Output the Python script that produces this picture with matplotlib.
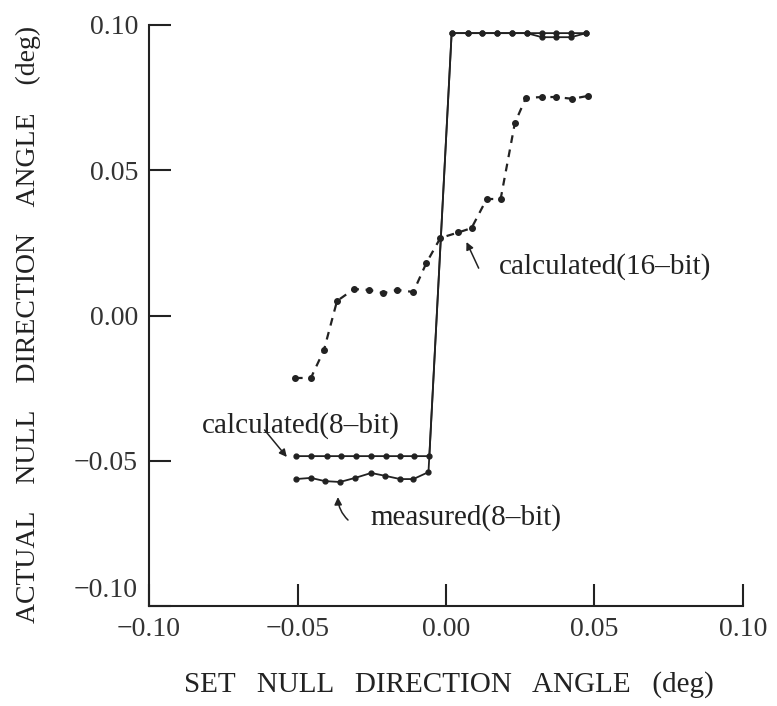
import matplotlib
matplotlib.use('Agg')
import matplotlib.pyplot as plt
import matplotlib.transforms as mtransforms

plt.rcParams['font.family'] = ['Liberation Serif', 'DejaVu Serif']

# calculated (16-bit), dashed
x_calc16 = [-0.0509, -0.0455, -0.0411, -0.0367, -0.0310, -0.0259, -0.0211,
            -0.0164, -0.0110, -0.0066, -0.0019, 0.0042, 0.0086, 0.0137,
            0.0184, 0.0232, 0.0269, 0.0323, 0.0370, 0.0425, 0.0479]
y_calc16 = [-0.0215, -0.0215, -0.0119, 0.0050, 0.0091, 0.0088, 0.0077,
            0.0088, 0.0081, 0.0181, 0.0267, 0.0286, 0.0301, 0.0401,
            0.0401, 0.0663, 0.0749, 0.0752, 0.0752, 0.0746, 0.0756]

# calculated (8-bit), solid
x_calc8 = [-0.0506, -0.0455, -0.0401, -0.0354, -0.0303, -0.0252, -0.0201,
           -0.0154, -0.0107, -0.0056,
           0.0019, 0.0073, 0.0120, 0.0171, 0.0222, 0.0272, 0.0323, 0.0370,
           0.0421, 0.0472]
y_calc8 = [-0.0484] * 10 + [0.0972] * 10

# measured (8-bit), solid
x_meas8 = [-0.0506, -0.0455, -0.0408, -0.0357, -0.0306, -0.0252, -0.0204,
           -0.0154, -0.0110, -0.0059,
           0.0019, 0.0073, 0.0120, 0.0171, 0.0222, 0.0272, 0.0323, 0.0370,
           0.0421, 0.0472]
y_meas8 = [-0.0563, -0.0559, -0.0570, -0.0573, -0.0559, -0.0542, -0.0552,
           -0.0563, -0.0563, -0.0539,
           0.0972, 0.0972, 0.0972, 0.0972, 0.0972, 0.0972, 0.0958, 0.0958,
           0.0958, 0.0972]

ticks = [-0.10, -0.05, 0.00, 0.05, 0.10]
tick_labels = ['\u22120.10', '\u22120.05', '0.00', '0.05', '0.10']

fig = plt.figure(figsize=(7.77, 7.06), dpi=100)
ax = fig.add_axes([0.1918, 0.1416, 0.7644, 0.823])

ax.plot(x_calc16, y_calc16, color='#222222', lw=1.6, dashes=(3.5, 3),
        marker='o', ms=4)
ax.plot(x_meas8, y_meas8, color='#222222', lw=1.3, marker='o', ms=3.5)
ax.plot(x_calc8, y_calc8, color='#222222', lw=1.3, marker='o', ms=3.5)

ax.set_xlim(-0.10, 0.10)
ax.set_ylim(-0.10, 0.10)
ax.set_xticks(ticks)
ax.set_xticklabels(tick_labels)
ax.set_yticks(ticks)
ax.set_yticklabels(tick_labels)

for s in ['top', 'right']:
    ax.spines[s].set_visible(False)
for s in ['left', 'bottom']:
    ax.spines[s].set_linewidth(1.5)
    ax.spines[s].set_color('#222222')

ax.tick_params(direction='in', length=16, width=1.5, color='#222222',
               labelsize=20, labelcolor='#333333')
ax.tick_params(axis='x', pad=8)
ax.tick_params(axis='y', pad=8)

# lift the lowest y label clear of the x labels
lab = ax.get_yticklabels()[0]
lab.set_transform(lab.get_transform() +
                  mtransforms.ScaledTranslation(0, 19 / 100, fig.dpi_scale_trans))

# axis titles
fig.text(0.578, 0.030, 'SET   NULL   DIRECTION   ANGLE   (deg)', fontsize=21,
         ha='center', va='center', color='#222222')
fig.text(0.037, 0.541, 'ACTUAL    NULL    DIRECTION    ANGLE    (deg)',
         fontsize=20, ha='center', va='center', rotation=90, color='#222222')

# annotations
arrow = dict(arrowstyle='-|>', lw=1.1, color='#222222', mutation_scale=11,
             shrinkA=0, shrinkB=0)
ax.text(0.0178, 0.0167, 'calculated(16\u2013bit)', fontsize=21,
        ha='left', va='center', color='#222222')
ax.annotate('', xy=(0.0069, 0.0253), xytext=(0.0110, 0.0163), arrowprops=arrow)

ax.text(-0.0821, -0.0377, 'calculated(8\u2013bit)', fontsize=21,
        ha='left', va='center', color='#222222')
ax.annotate('', xy=(-0.0536, -0.0487), xytext=(-0.0611, -0.0394),
            arrowprops=arrow)

ax.text(-0.0255, -0.0697, 'measured(8\u2013bit)', fontsize=21,
        ha='left', va='center', color='#222222')
ax.annotate('', xy=(-0.0364, -0.0625), xytext=(-0.0330, -0.0704),
            arrowprops=dict(arrow, connectionstyle='arc3,rad=-0.2'))

fig.savefig('out.png', dpi=100)
